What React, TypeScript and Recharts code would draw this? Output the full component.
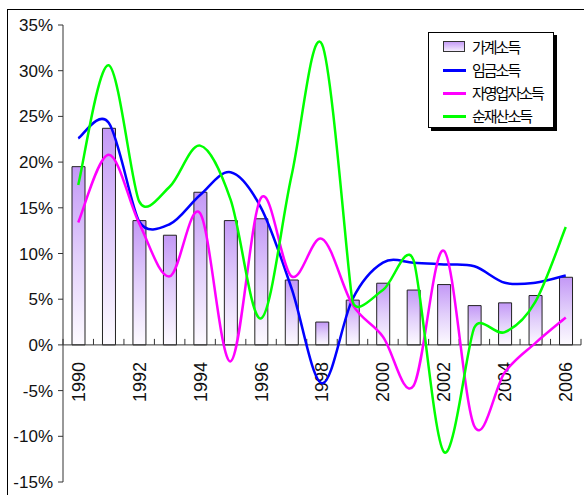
import React from 'react';
import { ComposedChart, Bar, Line, XAxis, YAxis, ReferenceLine } from 'recharts';

const YEARS = ['1990', '1991', '1992', '1993', '1994', '1995', '1996', '1997', '1998', '1999', '2000', '2001', '2002', '2003', '2004', '2005', '2006'];
const HOUSEHOLD = [19.5, 23.7, 13.6, 12.0, 16.7, 13.6, 13.8, 7.1, 2.5, 4.9, 6.75, 6.0, 6.6, 4.3, 4.6, 5.4, 7.4];
const WAGE = [22.6, 24.3, 13.5, 13.2, 16.4, 18.9, 15.0, 6.2, -4.2, 5.0, 9.0, 9.0, 8.8, 8.6, 6.8, 6.8, 7.6];
const SELF_EMPLOYED = [13.4, 20.8, 13.3, 7.5, 14.4, -1.8, 16.1, 7.5, 11.6, 4.4, 0.9, -4.5, 10.3, -8.9, -3.0, 0.2, 3.0];
const NET_ASSET = [17.5, 30.6, 15.7, 17.3, 21.8, 15.9, 2.9, 18.5, 32.9, 4.8, 6.0, 9.3, -11.7, 1.9, 1.4, 4.7, 12.9];
const Y_TICKS = [-15, -10, -5, 0, 5, 10, 15, 20, 25, 30, 35];
const X_LABELS = ['1990', '1992', '1994', '1996', '1998', '2000', '2002', '2004', '2006'];

const NAMES = {
  household: '가계소득',
  wage: '임금소득',
  self: '자영업자소득',
  asset: '순재산소득',
};

const COLORS = {
  wage: '#0000ff',
  self: '#ff00ff',
  asset: '#00ff00',
};

const data = YEARS.map((year, i) => ({
  year,
  household: HOUSEHOLD[i],
  wage: WAGE[i],
  self: SELF_EMPLOYED[i],
  asset: NET_ASSET[i],
}));

const FONT = '"Liberation Sans", Arial, sans-serif';

const dist = (a: number[], b: number[]) => Math.hypot(a[0] - b[0], a[1] - b[1]);

// Excel-like smoothed line: Bezier with tension 1/6, limited by neighbouring segment lengths
const excelSmooth = (context: any) => {
  let pts: [number, number][] = [];
  const tangent = (i: number) => {
    const n = pts.length;
    const p0 = pts[Math.max(i - 1, 0)];
    const p1 = pts[i];
    const p2 = pts[Math.min(i + 1, n - 1)];
    const d02 = dist(p0, p2);
    if (d02 === 0) return [0, 0];
    let f = 1 / 6;
    const d01 = dist(p0, p1);
    const d12 = dist(p1, p2);
    if (i > 0 && i < n - 1) {
      f = Math.min(f, d01 / (2 * d02), d12 / (2 * d02));
    }
    return [(p2[0] - p0[0]) * f, (p2[1] - p0[1]) * f];
  };
  return {
    areaStart() {},
    areaEnd() {},
    lineStart() {
      pts = [];
    },
    point(x: number, y: number) {
      pts.push([+x, +y]);
    },
    lineEnd() {
      const n = pts.length;
      if (!n) return;
      context.moveTo(pts[0][0], pts[0][1]);
      for (let i = 0; i < n - 1; i++) {
        const p1 = pts[i];
        const p2 = pts[i + 1];
        const t1 = tangent(i);
        const t2 = tangent(i + 1);
        context.bezierCurveTo(p1[0] + t1[0], p1[1] + t1[1], p2[0] - t2[0], p2[1] - t2[1], p2[0], p2[1]);
      }
    },
  };
};

const ZeroAxis = (props: any) => {
  const { x1, x2, y1 } = props;
  if (x1 == null || y1 == null) return null;
  const n = YEARS.length;
  const step = (x2 - x1) / n;
  return (
    <g>
      <line x1={x1} x2={x2} y1={y1} y2={y1} stroke="#333" strokeWidth={1} />
      {Array.from({ length: n + 1 }).map((_, i) => (
        <line key={'t' + i} x1={x1 + i * step} x2={x1 + i * step} y1={y1} y2={y1 - 6} stroke="#333" strokeWidth={1} />
      ))}
      {YEARS.map((yr, i) =>
        X_LABELS.includes(yr) ? (
          <text
            key={'l' + yr}
            x={x1 + (i + 0.5) * step + 6.5}
            y={y1 + 17}
            transform={`rotate(-90 ${x1 + (i + 0.5) * step + 6.5} ${y1 + 17})`}
            textAnchor="end"
            fontFamily={FONT}
            fontSize={18}
            fill="#111"
          >
            {yr}
          </text>
        ) : null
      )}
    </g>
  );
};

const LegendBox = () => {
  const rows = [
    { key: 'household', label: NAMES.household, type: 'bar' },
    { key: 'wage', label: NAMES.wage, type: 'line', color: COLORS.wage },
    { key: 'self', label: NAMES.self, type: 'line', color: COLORS.self },
    { key: 'asset', label: NAMES.asset, type: 'line', color: COLORS.asset },
  ];
  return (
    <div
      style={{
        position: 'absolute',
        left: 428,
        top: 32,
        width: 126,
        height: 96,
        boxSizing: 'border-box',
        border: '1px solid #000',
        background: '#fff',
        boxShadow: '3px 3px 0 #000',
      }}
    >
      {rows.map((r, i) => (
        <div key={r.key} style={{ position: 'absolute', left: 0, top: 14 + i * 23 - 10, height: 20, width: 124 }}>
          {r.type === 'bar' ? (
            <div
              style={{
                position: 'absolute',
                left: 14,
                top: 4,
                width: 22,
                height: 11,
                boxSizing: 'border-box',
                border: '1px solid #333',
                background: 'linear-gradient(#c69df7, #f4ecfe)',
              }}
            />
          ) : (
            <div style={{ position: 'absolute', left: 14, top: 9, width: 23, height: 3, background: r.color }} />
          )}
          <div
            style={{
              position: 'absolute',
              left: 43,
              top: 0,
              lineHeight: '20px',
              fontSize: 15,
              letterSpacing: -2,
              fontFamily: '"Noto Sans CJK KR", sans-serif',
              color: '#000',
              whiteSpace: 'nowrap',
            }}
          >
            {r.label}
          </div>
        </div>
      ))}
    </div>
  );
};

export default function App() {
  return (
    <div style={{ position: 'absolute', left: 0, top: 0, width: 584, height: 495, background: '#fff', overflow: 'hidden' }}>
      <div
        style={{
          position: 'absolute',
          left: 7,
          top: 9,
          width: 700,
          height: 600,
          borderLeft: '1px solid #000',
          borderTop: '1px solid #000',
        }}
      />
      <div style={{ position: 'absolute', left: 0, top: 0 }}>
        <ComposedChart width={584} height={495} data={data} margin={{ top: 25, right: 3, bottom: 13, left: 8 }}>
          <defs>
            <linearGradient id="barGrad" x1="0" y1="0" x2="0" y2="1">
              <stop offset="0%" stopColor="#c398f6" />
              <stop offset="50%" stopColor="#e2cffb" />
              <stop offset="100%" stopColor="#fdfbff" />
            </linearGradient>
          </defs>
          <XAxis dataKey="year" hide height={0} />
          <YAxis
            domain={[-15, 35]}
            ticks={Y_TICKS}
            interval={0}
            width={55}
            tickFormatter={(v: number) => `${v}%`}
            tick={{ fontFamily: FONT, fontSize: 17, fill: '#111' }}
            tickSize={5}
            tickMargin={5}
            axisLine={{ stroke: '#333' }}
            tickLine={{ stroke: '#333' }}
          />
          <Bar dataKey="household" name={NAMES.household} barSize={13} fill="url(#barGrad)" stroke="#222" strokeWidth={1} isAnimationActive={false} />
          <ReferenceLine y={0} shape={(p: any) => <ZeroAxis {...p} />} />
          <Line dataKey="wage" name={NAMES.wage} type={excelSmooth as any} stroke={COLORS.wage} strokeWidth={2.5} dot={false} isAnimationActive={false} />
          <Line dataKey="self" name={NAMES.self} type={excelSmooth as any} stroke={COLORS.self} strokeWidth={2.5} dot={false} isAnimationActive={false} />
          <Line dataKey="asset" name={NAMES.asset} type={excelSmooth as any} stroke={COLORS.asset} strokeWidth={2.5} dot={false} isAnimationActive={false} />
        </ComposedChart>
      </div>
      <LegendBox />
    </div>
  );
}
